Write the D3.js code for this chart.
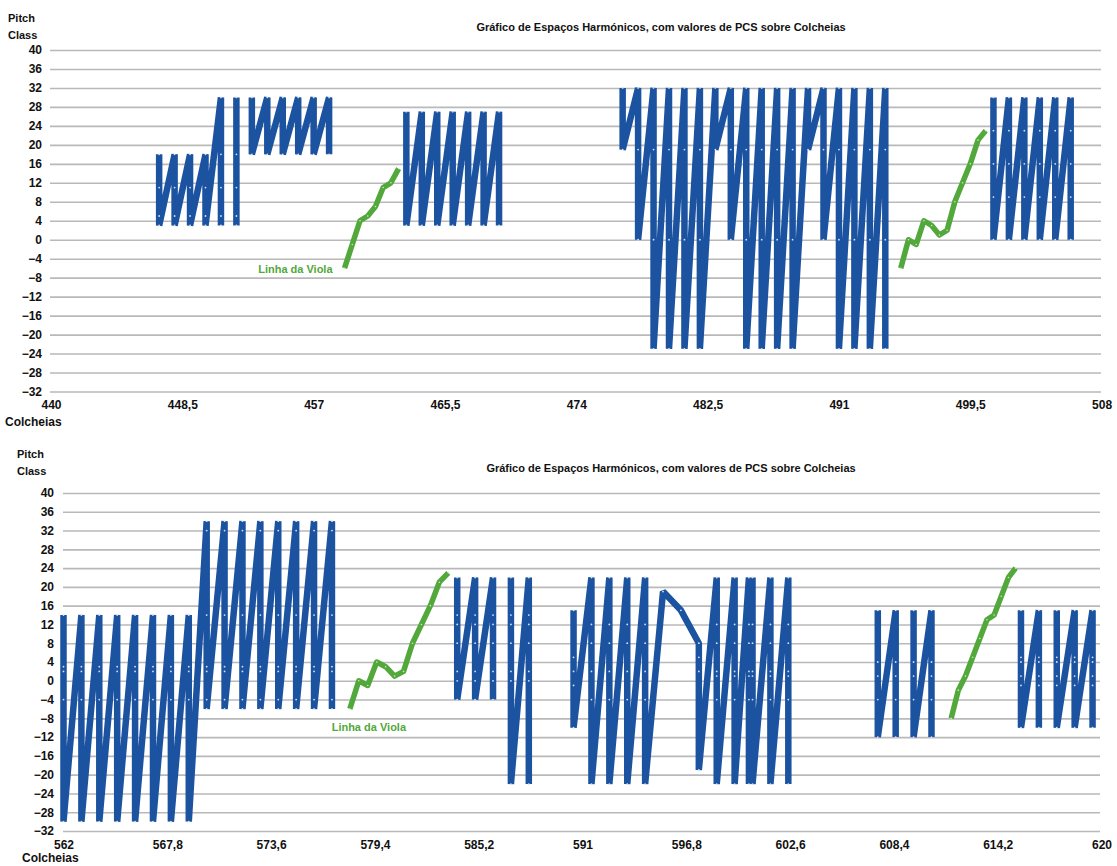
<!DOCTYPE html>
<meta charset="utf-8">
<style>
  body { margin: 0; background: #fff; }
  svg text { font-family: "Liberation Sans", Arial, sans-serif; font-weight: bold; fill: #111; }
</style>
<svg width="1117" height="866"></svg>
<script src="https://d3js.org/d3.v7.min.js"></script>
<script>

var title = "Gráfico de Espaços Harmónicos, com valores de PCS sobre Colcheias";
var violaLabel = "Linha da Viola";
var yTicks = d3.range(-32, 41, 4);
var topTicks = [440, 448.5, 457, 465.5, 474, 482.5, 491, 499.5, 508];
var botTicks = [562, 567.8, 573.6, 579.4, 585.2, 591, 596.8, 602.6, 608.4, 614.2, 620];

// blue series: each row = colcheia, then the PCS values from top to bottom
// (one array = one unbroken line)
var topBlue1 = [[447, 18, 11, 5, 3], [448, 18, 11, 5, 3], [449, 18, 11, 5, 3], [450, 18, 11, 5, 3], [451, 30, 18, 11, 5, 3]];
var topBlue2 = [[452, 30, 18, 11, 5, 3]];
var topBlue3 = [[453, 30, 18], [454, 30, 18], [455, 30, 18], [456, 30, 18], [457, 30, 18], [458, 30, 18]];
var topBlue4 = [[463, 27, 3], [464, 27, 3], [465, 27, 3], [466, 27, 3], [467, 27, 3], [468, 27, 3], [469, 27, 3]];
var topBlue5 = [
  [477, 32, 19], [478, 32, 19, 0], [479, 32, 19, 0, -23], [480, 32, 19, 0, -23], [481, 32, 19, 0, -23], [482, 32, 19, 0, -23],
  [483, 32, 19], [484, 32, 19, 0], [485, 32, 19, 0, -23], [486, 32, 19, 0, -23], [487, 32, 19, 0, -23], [488, 32, 19, 0, -23],
  [489, 32, 19], [490, 32, 19, 0], [491, 32, 19, 0, -23], [492, 32, 19, 0, -23], [493, 32, 19, 0, -23], [494, 32, 19, 0, -23]
];
var topBlue6 = [[501, 30, 23, 16, 9, 0], [502, 30, 23, 16, 9, 0], [503, 30, 23, 16, 9, 0], [504, 30, 23, 16, 9, 0], [505, 30, 23, 16, 9, 0], [506, 30, 23, 16, 9, 0]];

var topViolaX = [459, 459.5, 460, 460.5, 461, 461.5, 462, 462.5];
var topViola = [-6, -1, 4, 5, 7, 11, 12, 15];
var topViola2X = [495, 495.5, 496, 496.5, 497, 497.5, 498, 498.5, 499, 499.5, 500, 500.5];
var topViola2 = [-6, 0, -1, 4, 3, 1, 2, 8, 12, 16, 21, 23];

var botBlue1 = [
  [562, 14, 3, 2, -4, -30], [563, 14, 3, 2, -4, -30], [564, 14, 3, 2, -4, -30], [565, 14, 3, 2, -4, -30],
  [566, 14, 3, 2, -4, -30], [567, 14, 3, 2, -4, -30], [568, 14, 3, 2, -4, -30], [569, 14, 3, 2, -4, -30],
  [570, 34, 32, 14, 3, 2, -4, -6], [571, 34, 32, 14, 3, 2, -4, -6], [572, 34, 32, 14, 3, 2, -4, -6], [573, 34, 32, 14, 3, 2, -4, -6],
  [574, 34, 32, 14, 3, 2, -4, -6], [575, 34, 32, 14, 3, 2, -4, -6], [576, 34, 32, 14, 3, 2, -4, -6], [577, 34, 32, 14, 3, 2, -4, -6]
];
var botBlue2 = [[584, 22, 14, 12, 8, 2, 0, -4], [585, 22, 14, 12, 8, 2, 0, -4], [586, 22, 14, 12, 8, 2, 0, -4]];
var botBlue3 = [[587, 22, 14, 12, 8, 2, 0, -22], [588, 22, 14, 12, 8, 2, 0, -22]];
var botBlue4 = [
  [590.5, 15, 5, 2, -1, -10], [591.5, 22, 12, 8, 2, -4, -22], [592.5, 22, 12, 8, 2, -4, -22], [593.5, 22, 12, 8, 2, -4, -22],
  [594.5, 22, 12, 8, 2, -4, -22], [595.5, 19], [596.5, 15], [597.5, 8, 5, 2, -19],
  [598.5, 22, 12, 8, 2, 1, -4, -22], [599.5, 22, 12, 8, 2, 1, -4, -22], [600.3, 22, 12, 8, 2, 1, -4, -22],
  [600.5, 22, 12, 8, 2, 1, -4, -22], [601.5, 22, 12, 8, 2, 1, -4, -22], [602.5, 22, 12, 8, 2, 1, -4, -22]
];
var botBlue5 = [[607.5, 15, 4, 1, -4, -12], [608.5, 15, 4, 1, -4, -12]];
var botBlue6 = [[609.5, 15, 4, 1, -4, -12], [610.5, 15, 4, 1, -4, -12]];
var botBlue7 = [[615.5, 15, 5, 4, 1, -1, -10], [616.5, 15, 5, 4, 1, -1, -10]];
var botBlue8 = [[617.5, 15, 5, 4, 1, -1, -10], [618.5, 15, 5, 4, 1, -1, -10], [619.5, 15, 5, 4, 1, -1, -10]];

var botViolaX = [578, 578.5, 579, 579.5, 580, 580.5, 581, 581.5, 582, 582.5, 583, 583.5];
var botViola = [-6, 0, -1, 4, 3, 1, 2, 8, 12, 16, 21, 23];
var botViola2X = [611.6, 612, 612.4, 612.8, 613.2, 613.6, 614, 614.4, 614.8, 615.2];
var botViola2 = [-8, -2, 1, 5, 9, 13, 14, 18, 22, 24];

var blue = "#1c53a1", green = "#52a83b", grid = "#b9b9b9";
var svg = d3.select("svg");
var commaFmt = function (v) { return String(v).replace(".", ","); };

function drawPanel(cfg) {
  var x = d3.scaleLinear().domain(cfg.xDomain).range(cfg.xRange);
  var y = d3.scaleLinear().domain([-32, 40]).range(cfg.yRange);
  var g = svg.append("g");

  // horizontal gridlines + y labels
  var ya = g.append("g")
    .attr("transform", "translate(" + cfg.gridX0 + ",0)")
    .call(d3.axisLeft(y).tickValues(yTicks).tickSize(-(cfg.gridX1 - cfg.gridX0)).tickPadding(cfg.yPad));
  ya.select(".domain").remove();
  ya.selectAll("line").attr("stroke", grid).attr("stroke-width", 1.6);
  ya.selectAll("text").attr("font-size", 12).attr("fill", "#111");

  // x labels
  var xa = g.append("g")
    .attr("transform", "translate(0," + cfg.yRange[0] + ")")
    .call(d3.axisBottom(x).tickValues(cfg.xTicks).tickSize(0).tickPadding(cfg.xPad).tickFormat(commaFmt));
  xa.select(".domain").remove();
  xa.selectAll("text").attr("font-size", 12).attr("fill", "#111");

  var line = d3.line().x(function (d) { return x(d[0]); }).y(function (d) { return y(d[1]); });

  cfg.blue.forEach(function (rows) {
    var pts = [];
    rows.forEach(function (r) {
      r.slice(1).forEach(function (v) { pts.push([r[0], v]); });
    });
    g.append("path").datum(pts)
      .attr("d", line)
      .attr("fill", "none")
      .attr("stroke", blue)
      .attr("stroke-width", 6.5)
      .attr("stroke-linejoin", "bevel");
    g.selectAll(null).data(pts).enter().append("circle")
      .attr("cx", function (d) { return x(d[0]); })
      .attr("cy", function (d) { return y(d[1]); })
      .attr("r", 0.9)
      .attr("fill", "#d6e2f3");
  });

  cfg.viola.forEach(function (s) {
    var pts = s[0].map(function (xv, i) { return [xv, s[1][i]]; });
    g.append("path").datum(pts)
      .attr("d", line)
      .attr("fill", "none")
      .attr("stroke", green)
      .attr("stroke-width", 5.5)
      .attr("stroke-linejoin", "round");
    g.selectAll(null).data(pts).enter().append("circle")
      .attr("cx", function (d) { return x(d[0]); })
      .attr("cy", function (d) { return y(d[1]); })
      .attr("r", 0.8)
      .attr("fill", "#cfe8c6");
  });

  // label of the first viola line
  var v0 = cfg.viola[0];
  g.append("text")
    .attr("x", x(v0[0][0]) + cfg.labelDx)
    .attr("y", y(v0[1][0]) + cfg.labelDy)
    .attr("text-anchor", cfg.labelAnchor)
    .attr("font-size", 11)
    .style("fill", green)
    .text(violaLabel);

  g.append("text").attr("x", cfg.titleX).attr("y", cfg.titleY)
    .attr("text-anchor", "middle").attr("font-size", 11).text(title);
  g.append("text").attr("x", cfg.pcX).attr("y", cfg.pcY).attr("font-size", 11).text("Pitch");
  g.append("text").attr("x", cfg.pcX).attr("y", cfg.pcY + 17).attr("font-size", 11).text("Class");
  g.append("text").attr("x", cfg.colX).attr("y", cfg.colY).attr("font-size", 12).text("Colcheias");
}

drawPanel({
  xDomain: [440, 508], xRange: [51, 1101.6], yRange: [391.5, 50],
  gridX0: 50, gridX1: 1101, yPad: 8, xPad: 9,
  xTicks: topTicks,
  blue: [topBlue1, topBlue2, topBlue3, topBlue4, topBlue5, topBlue6],
  viola: [[topViolaX, topViola], [topViola2X, topViola2]],
  labelDx: -12, labelDy: 5, labelAnchor: "end",
  titleX: 661, titleY: 31, pcX: 8, pcY: 22, colX: 5, colY: 426
});

drawPanel({
  xDomain: [562, 620], xRange: [63.5, 1101.5], yRange: [831, 493],
  gridX0: 63, gridX1: 1100, yPad: 9, xPad: 9,
  xTicks: botTicks,
  blue: [botBlue1, botBlue2, botBlue3, botBlue4, botBlue5, botBlue6, botBlue7, botBlue8],
  viola: [[botViolaX, botViola], [botViola2X, botViola2]],
  labelDx: 19, labelDy: 22, labelAnchor: "middle",
  titleX: 671, titleY: 472, pcX: 17, pcY: 458, colX: 22, colY: 862
});

</script>
